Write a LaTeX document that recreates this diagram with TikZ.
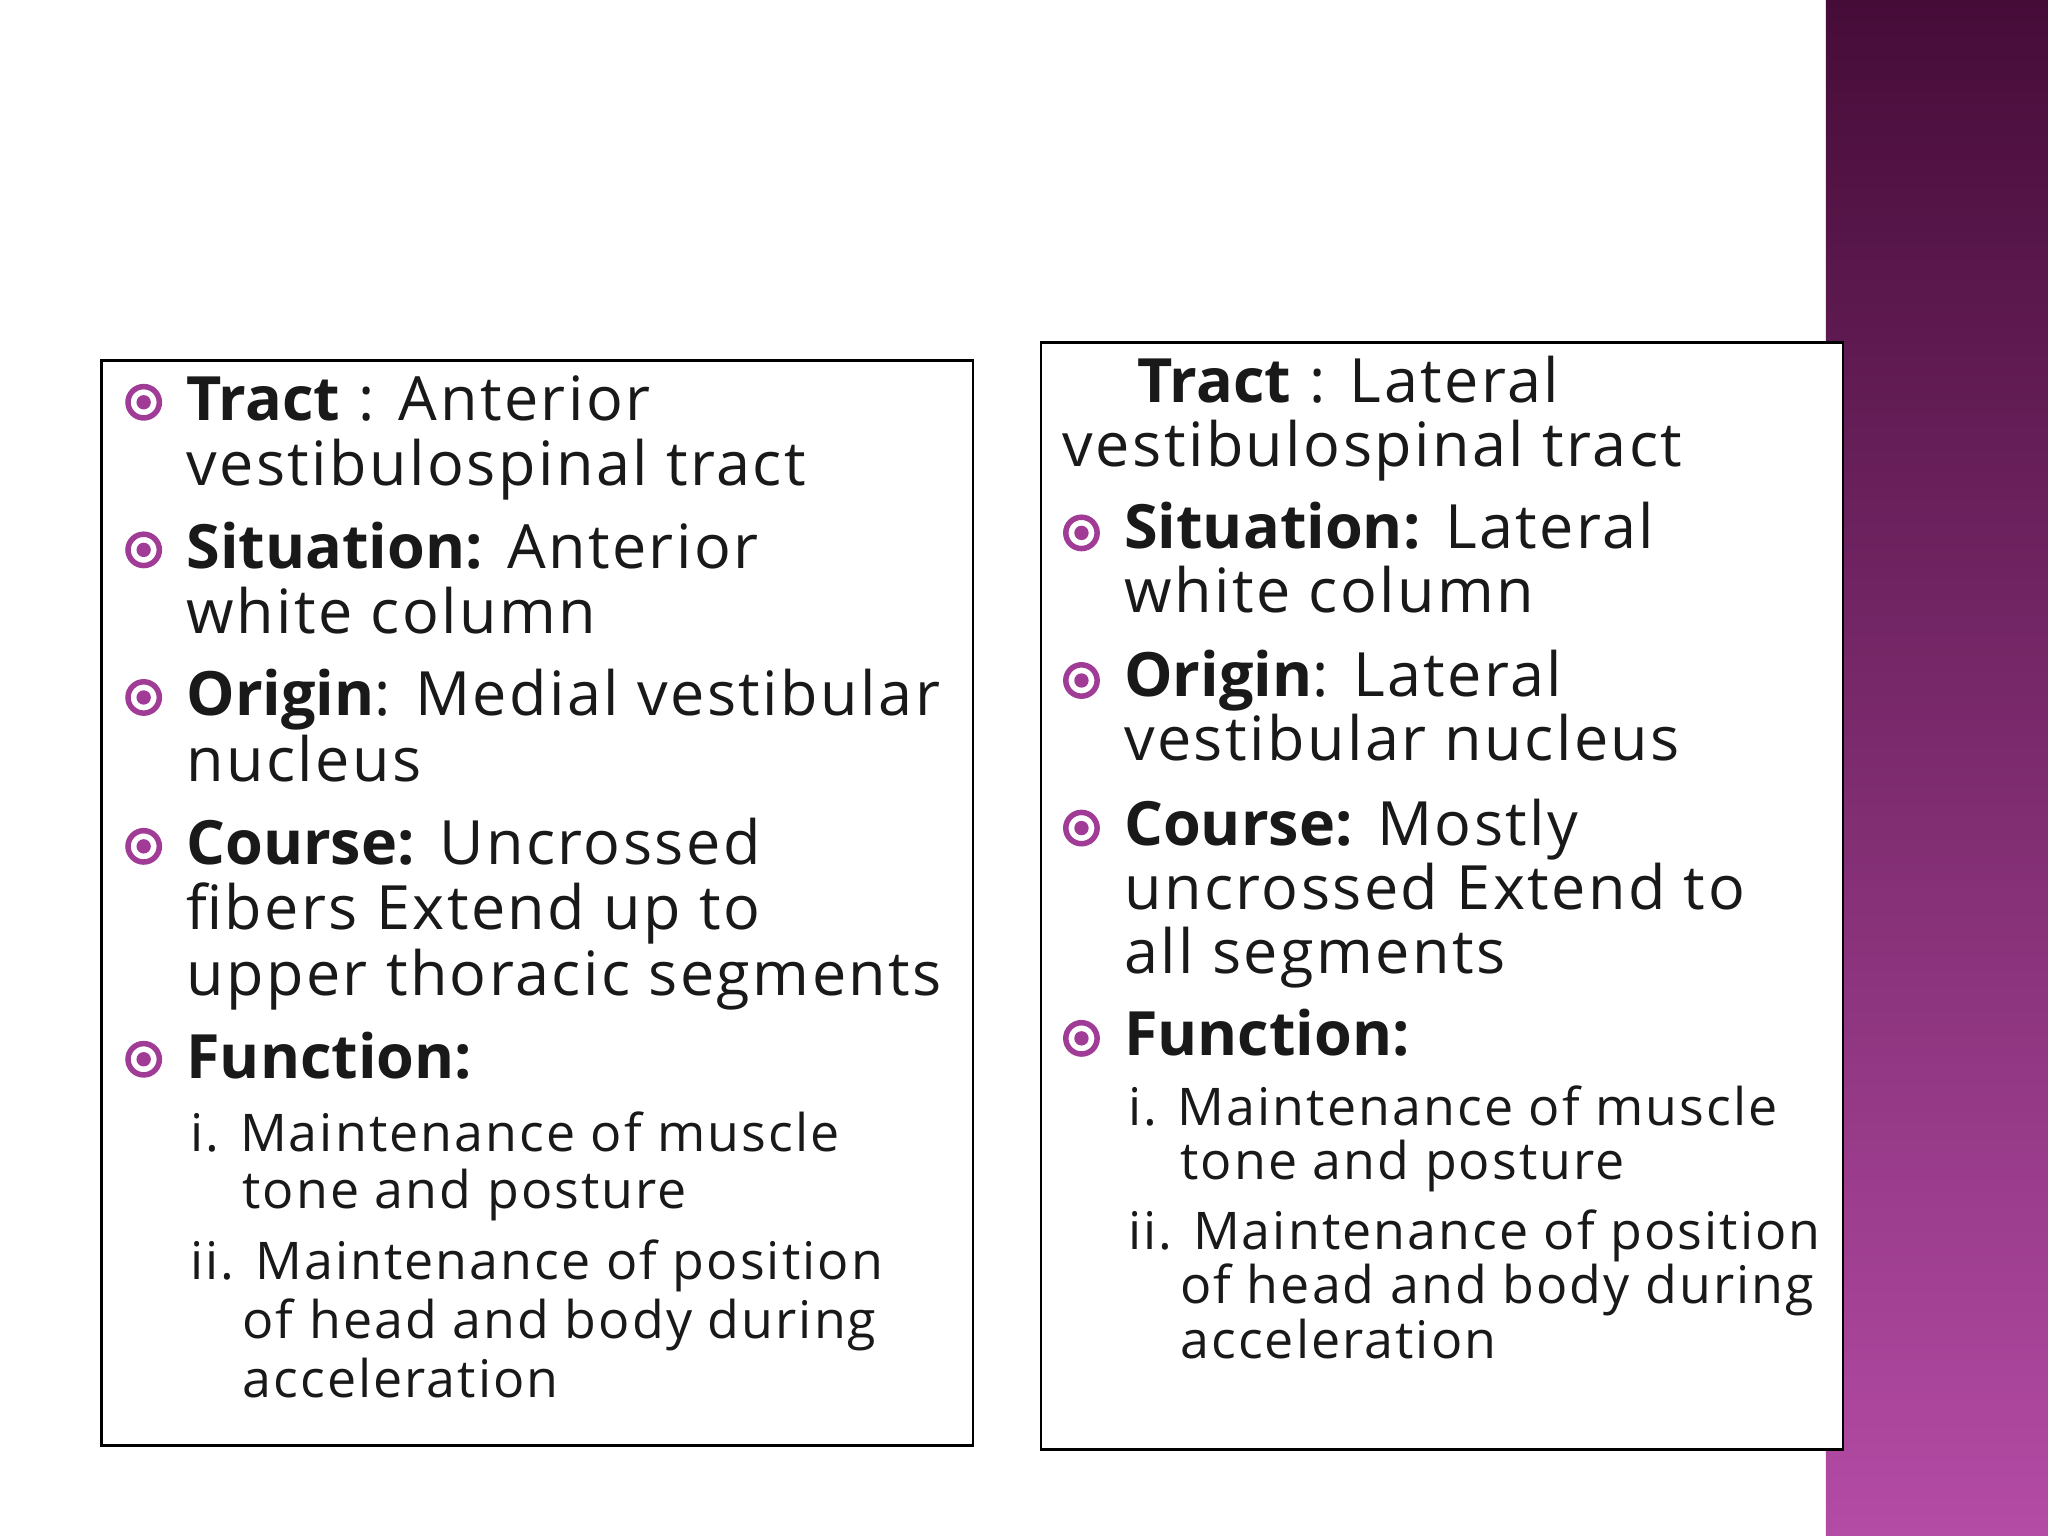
\documentclass[tikz,border=0pt]{standalone}
\usepackage{fontspec}
\setmainfont{Open Sans}[LetterSpace=4,BoldFeatures={LetterSpace=0}]
\begin{document}
\begin{tikzpicture}[x=0.01cm,y=-0.01cm,
  L/.style={anchor=base west,inner sep=0,font=\fontsize{13.3}{15}\selectfont,text=black!90},
  S/.style={anchor=base west,inner sep=0,font=\fontsize{11.3}{13}\selectfont,text=black!90},
  box/.style={draw=black,line width=0.6pt}]
\useasboundingbox (0,0) rectangle (1568,1176);
\fill[white] (0,0) rectangle (1568,1176);
\shade[top color={rgb,255:red,70;green,12;blue,56},bottom color={rgb,255:red,180;green,75;blue,165}] (1398,0) rectangle (1568,1176);
\newcommand{\bul}[2]{\draw[line width=1.2pt,color={rgb,255:red,160;green,60;blue,150}] (#1,#2) circle (12);
  \fill[color={rgb,255:red,160;green,60;blue,150}] (#1,#2) circle (5.5);}
\draw[box,fill=white] (78,276) rectangle (745,1107);
\draw[box,fill=white] (797,262) rectangle (1411,1110);
% left
\bul{110}{308}\bul{110}{421}\bul{110}{534}\bul{110}{648}\bul{110}{811}
\node[L] (a1) at (142,322) {\textbf{Tract} : Anterior};
\node[L] (a2) at (142,372) {vestibulospinal tract};
\node[L] (a3) at (142,435) {\textbf{Situation:} Anterior};
\node[L] (a4) at (142,485) {white column};
\node[L] (a5) at (142,548) {\textbf{Origin}: Medial vestibular};
\node[L] (a6) at (142,598) {nucleus};
\node[L] (a7) at (142,662) {\textbf{Course:} Uncrossed};
\node[L] (a8) at (142,712) {fibers Extend up to};
\node[L] (a9) at (142,762) {upper thoracic segments};
\node[L] (a10) at (142,826) {\textbf{Function:}};
\node[S] (a11) at (145,882) {i. Maintenance of muscle};
\node[S] (a12) at (185,925) {tone and posture};
\node[S] (a13) at (145,980) {ii. Maintenance of position};
\node[S] (a14) at (185,1025) {of head and body during};
\node[S] (a15) at (185,1070) {acceleration};
% right
\bul{828}{408}\bul{828}{521}\bul{828}{634}\bul{828}{795}
\node[L] (b1) at (870,308) {\textbf{Tract} : Lateral};
\node[L] (b2) at (813,357) {vestibulospinal tract};
\node[L] (b3) at (860,420) {\textbf{Situation:} Lateral};
\node[L] (b4) at (860,469) {white column};
\node[L] (b5) at (860,533) {\textbf{Origin}: Lateral};
\node[L] (b6) at (860,582) {vestibular nucleus};
\node[L] (b7) at (860,647) {\textbf{Course:} Mostly};
\node[L] (b8) at (860,696) {uncrossed Extend to};
\node[L] (b9) at (860,745) {all segments};
\node[L] (b10) at (860,808) {\textbf{Function:}};
\node[S] (b11) at (863,862) {i. Maintenance of muscle};
\node[S] (b12) at (903,903) {tone and posture};
\node[S] (b13) at (863,957) {ii. Maintenance of position};
\node[S] (b14) at (903,998) {of head and body during};
\node[S] (b15) at (903,1040) {acceleration};
\end{tikzpicture}
\end{document}
